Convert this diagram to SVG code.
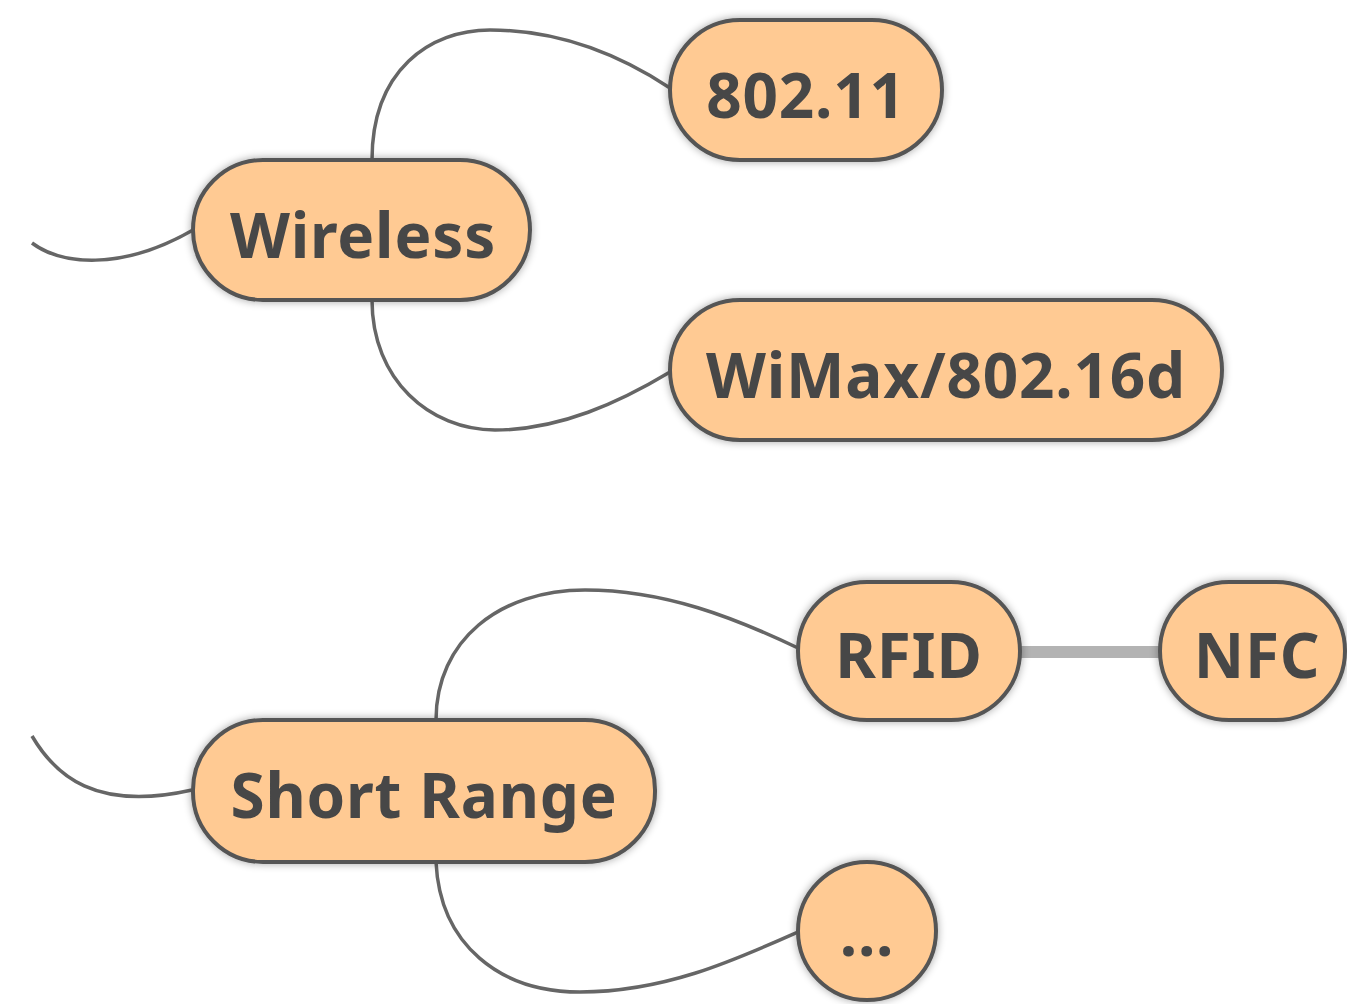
<svg xmlns="http://www.w3.org/2000/svg" width="1347" height="1004" viewBox="0 0 1347 1004">
<defs>
<filter id="sh" x="-10%" y="-20%" width="120%" height="140%">
<feGaussianBlur in="SourceAlpha" stdDeviation="4"/>
<feOffset dx="0" dy="0" result="b"/>
<feComponentTransfer><feFuncA type="linear" slope="0.35"/></feComponentTransfer>
<feMerge><feMergeNode/><feMergeNode in="SourceGraphic"/></feMerge>
</filter>
</defs>
<style>
.node rect{fill:#FFCA93;stroke:#555555;stroke-width:4}
.node text{font-family:"Noto Sans","Open Sans",sans-serif;font-weight:bold;font-size:62px;letter-spacing:0.8px;fill:#474747;text-anchor:middle}
.edge{fill:none;stroke:#666666;stroke-width:3.5}
.link{stroke:#b3b3b3;stroke-width:12}
</style>
<g id="connectors">
<path class="edge" d="M 32 243 C 60 264, 120 272, 193 230"/>
<path class="edge" d="M 32 736 C 55 775, 95 812, 192 790"/>
<path class="edge" d="M 372 160 C 372 70, 430 30, 490 30 C 560 30, 620 55, 670 88"/>
<path class="edge" d="M 372 300 C 372 380, 430 430, 495 430 C 560 430, 620 402, 670 372"/>
<path class="edge" d="M 436 720 C 436 640, 500 590, 585 590 C 665 590, 735 618, 798 648"/>
<path class="edge" d="M 436 862 C 440 945, 500 992, 580 992 C 665 992, 735 960, 798 932"/>
<line class="link" x1="1020" y1="652" x2="1160" y2="652"/>
</g>
<g id="node-wireless" class="node" filter="url(#sh)">
<rect x="193" y="160" width="337" height="140" rx="70"/>
<text x="363" y="258">Wireless</text>
</g>
<g id="node-80211" class="node" filter="url(#sh)">
<rect x="670" y="20" width="272" height="140" rx="70"/>
<text x="806" y="118">802.11</text>
</g>
<g id="node-wimax" class="node" filter="url(#sh)">
<rect x="670" y="300" width="552" height="140" rx="70"/>
<text x="946" y="398">WiMax/802.16d</text>
</g>
<g id="node-shortrange" class="node" filter="url(#sh)">
<rect x="193" y="720" width="462" height="142" rx="70"/>
<text x="424" y="818">Short Range</text>
</g>
<g id="node-rfid" class="node" filter="url(#sh)">
<rect x="798" y="582" width="222" height="138" rx="69"/>
<text x="909" y="678">RFID</text>
</g>
<g id="node-nfc" class="node" filter="url(#sh)">
<rect x="1160" y="582" width="185" height="138" rx="69"/>
<text x="1257" y="678">NFC</text>
</g>
<g id="node-more" class="node" filter="url(#sh)">
<rect x="798" y="862" width="138" height="138" rx="69"/>
<text x="867" y="956">...</text>
</g>
</svg>
